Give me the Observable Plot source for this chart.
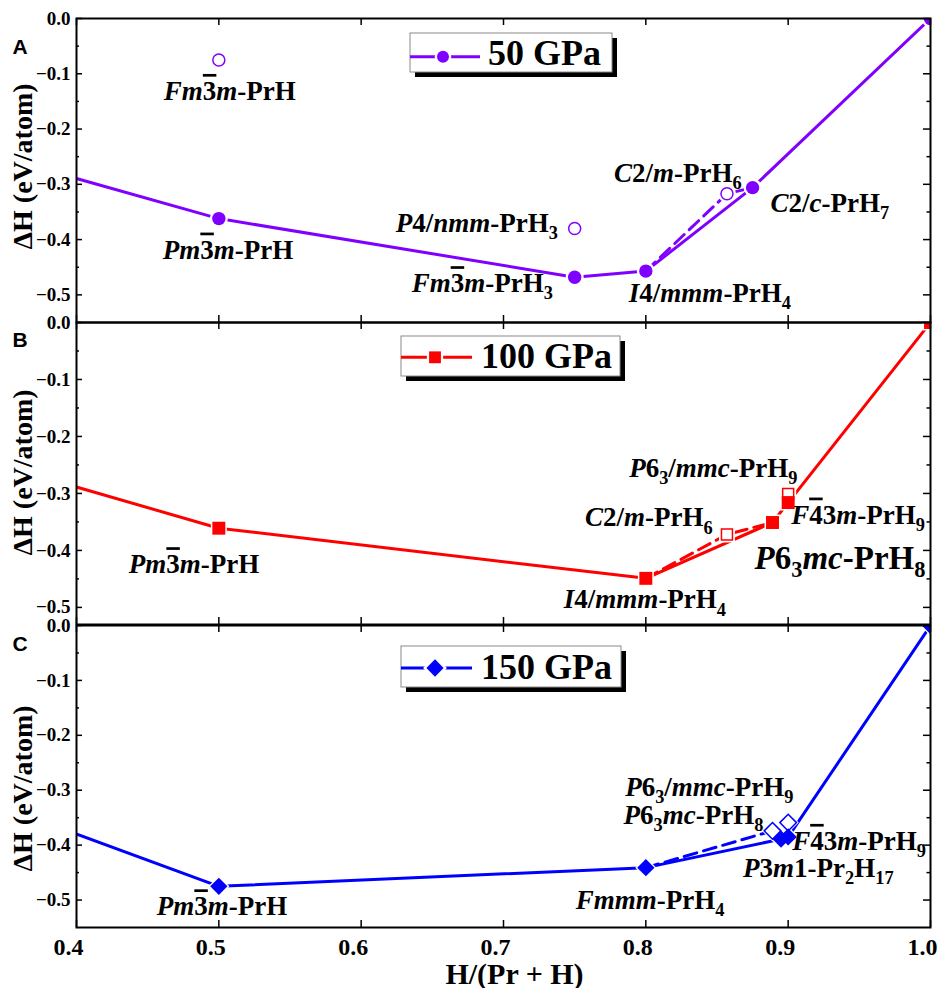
<!DOCTYPE html>
<html><head><meta charset="utf-8">
<script src="https://cdn.jsdelivr.net/npm/d3@7"></script>
<script src="https://cdn.jsdelivr.net/npm/@observablehq/plot@0.6"></script>
<style>
html,body{margin:0;padding:0;background:#fff;}
#root{position:relative;width:939px;height:988px;overflow:hidden;background:#fff;}
</style></head>
<body><div id="root"></div>
<script>
// ---------- data ----------
const xTicks = [0.4, 0.5, 0.6, 0.7, 0.8, 0.9, 1.0];
const yTicks = [0, -0.1, -0.2, -0.3, -0.4, -0.5];
const yMinor = [-0.05, -0.15, -0.25, -0.35, -0.45];

// Panel A : 50 GPa
const a_hullX = [0, 0.5, 0.75, 0.8, 0.875, 1.0];
const a_hullY = [0, -0.362, -0.468, -0.457, -0.306, 0];
const a_metaX = [0.5, 0.75, 0.857];
const a_metaY = [-0.075, -0.380, -0.317];
const a_dashX = [0.8, 0.857, 0.875];
const a_dashY = [-0.457, -0.317, -0.306];
const a_labelText = ["*Fm*~3*m*-PrH", "*Pm*~3*m*-PrH", "*P*4/*nmm*-PrH_3", "*Fm*~3*m*-PrH_3", "*I*4/*mmm*-PrH_4", "*C*2/*m*-PrH_6", "*C*2/*c*-PrH_7"];
const a_labelX = [0.5, 0.5, 0.75, 0.75, 0.8, 0.857, 0.875];
const a_labelY = [-0.075, -0.362, -0.380, -0.468, -0.457, -0.317, -0.306];

// Panel B : 100 GPa
const b_hullX = [0, 0.5, 0.8, 0.889, 0.9, 1.0];
const b_hullY = [0, -0.361, -0.449, -0.351, -0.316, 0];
const b_metaX = [0.857, 0.9];
const b_metaY = [-0.372, -0.301];
const b_dashX = [0.8, 0.857, 0.889];
const b_dashY = [-0.449, -0.372, -0.351];
const b_labelText = ["*Pm*~3*m*-PrH", "*I*4/*mmm*-PrH_4", "*C*2/*m*-PrH_6", "*P*6_3/*mmc*-PrH_9", "*F*~43*m*-PrH_9", "*P*6_3*mc*-PrH_8"];
const b_labelX = [0.5, 0.8, 0.857, 0.9, 0.9, 0.889];
const b_labelY = [-0.361, -0.449, -0.372, -0.301, -0.316, -0.351];

// Panel C : 150 GPa
const c_hullX = [0, 0.5, 0.8, 0.895, 0.9, 1.0];
const c_hullY = [0, -0.475, -0.441, -0.389, -0.385, 0];
const c_metaX = [0.889, 0.9];
const c_metaY = [-0.374, -0.359];
const c_dashX = [0.8, 0.889];
const c_dashY = [-0.441, -0.374];
const c_labelText = ["*Pm*~3*m*-PrH", "*Fmmm*-PrH_4", "*P*6_3/*mmc*-PrH_9", "*P*6_3*mc*-PrH_8", "*F*~43*m*-PrH_9", "*P*3*m*1-Pr_2H_17"];
const c_labelX = [0.5, 0.8, 0.9, 0.889, 0.9, 0.895];
const c_labelY = [-0.475, -0.441, -0.359, -0.374, -0.385, -0.389];

// ---------- layout (pixel offsets of labels from their points) ----------
const a_labelOff = [[-55,40],[-56,40],[-179,3],[-163,15],[-17,31],[-113,-12],[18,24]];
const a_labelSize = [27,27,27,27,27,27,27];
const b_labelOff = [[-90,45],[-82,30],[-142,-8],[-159,-17],[3,21],[-18,46]];
const b_labelSize = [27,27,27,27,27,33];
const c_labelOff = [[-62,29],[-70,41],[-163,-27],[-149,-7],[4,13],[-38,38]];
const c_labelSize = [27,27,27,27,27,27];

const W = 939, ML = 76, MR = 9;
const serif = "Liberation Serif, Times New Roman, serif";
const fmtY = d => d === 0 ? "0.0" : "\u2212" + Math.abs(d).toFixed(1);
const root = document.getElementById("root");

function parseMarkup(m) {
  const segs = []; let italic = false, buf = "", i = 0;
  const flush = () => { if (buf) { segs.push({t: buf, italic}); buf = ""; } };
  while (i < m.length) {
    const c = m[i];
    if (c === "*") { flush(); italic = !italic; i++; }
    else if (c === "_") { flush(); i++; let s = ""; while (i < m.length && /\d/.test(m[i])) s += m[i++]; segs.push({t: s, sub: true}); }
    else if (c === "~") { flush(); segs.push({t: m[i+1], over: true}); i += 2; }
    else { buf += c; i++; }
  }
  flush(); return segs;
}
function richify(svg) {
  const ns = "http://www.w3.org/2000/svg";
  svg.querySelectorAll("text").forEach(el => {
    const m = el.textContent;
    if (!m.includes("*")) return;
    const g = el.closest("[font-size]");
    const fs = g ? parseFloat(g.getAttribute("font-size")) : 27;
    el.textContent = "";
    let shift = 0;
    for (const s of parseMarkup(m)) {
      const t = document.createElementNS(ns, "tspan");
      const want = s.sub ? fs * 0.27 : 0;
      if (want - shift !== 0) t.setAttribute("dy", want - shift);
      shift = want;
      if (s.sub) t.setAttribute("font-size", fs * 0.68);
      if (s.italic) t.setAttribute("font-style", "italic");
      if (s.over) t.setAttribute("style", "text-decoration: overline");
      t.textContent = s.t;
      el.appendChild(t);
    }
  });
}

function makePanel(p) {
  const PH = p.height - p.mt - p.mb, PW = W - ML - MR;
  const pts = (xs, ys) => xs.map((x, i) => ({x, y: ys[i]}));
  const hull = pts(p.hullX, p.hullY), meta = pts(p.metaX, p.metaY), dash = pts(p.dashX, p.dashY);
  const labels = p.labelText.map((t, i) => Plot.text([{x: p.labelX[i], y: p.labelY[i], t}], {
    x: "x", y: "y", text: "t", dx: p.labelOff[i][0], dy: p.labelOff[i][1],
    textAnchor: "start", lineAnchor: "bottom", fontSize: p.labelSize[i],
    fontWeight: "bold", fontFamily: serif, fill: "black"
  }));
  const marks = [
    Plot.line(hull, {x: "x", y: "y", stroke: p.color, strokeWidth: 3, clip: true}),
    Plot.line(dash, {x: "x", y: "y", stroke: p.color, strokeWidth: 3, strokeDasharray: "13,7", clip: true}),
    Plot.dot(hull.concat(meta), {x: "x", y: "y", symbol: p.symbol, r: p.rHalo, fill: "white", clip: true}),
    Plot.dot(meta, {x: "x", y: "y", symbol: p.symbol, r: p.rOpen, fill: "white", stroke: p.color, strokeWidth: 1.5, clip: true}),
    Plot.dot(hull, {x: "x", y: "y", symbol: p.symbol, r: p.rFill, fill: p.color, clip: true}),
    Plot.tickY(yTicks, {y: d => d, insetRight: PW - 6, stroke: "black", strokeWidth: 1.5}),
    Plot.tickY(yMinor, {y: d => d, insetRight: PW - 3, stroke: "black", strokeWidth: 1.5}),
    Plot.tickY(yTicks, {y: d => d, insetLeft: PW - 7, stroke: "black", strokeWidth: 1.5}),
    Plot.tickY(yMinor, {y: d => d, insetLeft: PW - 3.5, stroke: "black", strokeWidth: 1.5}),
    Plot.tickX(xTicks, {x: d => d, insetBottom: PH - 7, stroke: "black", strokeWidth: 1.5}),
    Plot.tickX(xTicks, {x: d => d, insetTop: PH - 7, stroke: "black", strokeWidth: 1.5}),
    Plot.frame({stroke: "black", strokeWidth: 2}),
    Plot.text(yTicks, {y: d => d, frameAnchor: "left", dx: -6, text: fmtY, textAnchor: "end", lineAnchor: "middle", fontSize: 19, fontWeight: "bold", fontFamily: serif, fill: "black"}),
    Plot.text(["\u0394H (eV/atom)"], {frameAnchor: "left", dx: -53.5, dy: p.ylabDy, rotate: -90, fontSize: 28, fontWeight: "bold", fontFamily: serif, textAnchor: "middle", lineAnchor: "middle", fill: "black"}),
    Plot.text([p.letter], {frameAnchor: "top-left", dx: -64, dy: p.letterDy, textAnchor: "start", lineAnchor: "bottom", fontSize: 21, fontWeight: "bold", fontFamily: "Liberation Sans, Arial, sans-serif", fill: "black"}),
    ...labels
  ];
  if (p.xAxis) {
    marks.push(Plot.text(xTicks, {x: d => d, frameAnchor: "bottom", dx: -8, dy: 10, text: d => d.toFixed(1), textAnchor: "middle", lineAnchor: "top", fontSize: 24, fontWeight: "bold", fontFamily: serif, fill: "black"}));
    marks.push(Plot.text(["H/(Pr + H)"], {frameAnchor: "bottom", dx: 11, dy: 56, lineAnchor: "bottom", textAnchor: "middle", fontSize: 30, fontWeight: "bold", fontFamily: serif, fill: "black"}));
  }
  const svg = Plot.plot({
    width: W, height: p.height,
    marginLeft: ML, marginRight: MR, marginTop: p.mt, marginBottom: p.mb,
    x: {domain: [0.4, 1.0], axis: null},
    y: {domain: [p.yMin, 0], axis: null},
    style: {background: "transparent", overflow: "visible", fontFamily: serif, fontWeight: "bold", fontSize: "19px", color: "black"},
    marks
  });
  svg.style.position = "absolute";
  svg.style.left = "0px";
  svg.style.top = p.top + "px";
  richify(svg);
  root.appendChild(svg);
}

makePanel({hullX: a_hullX, hullY: a_hullY, metaX: a_metaX, metaY: a_metaY, dashX: a_dashX, dashY: a_dashY,
  labelText: a_labelText, labelX: a_labelX, labelY: a_labelY, labelOff: a_labelOff, labelSize: a_labelSize,
  color: "#8000ff", symbol: "circle", rFill: 6.7, rOpen: 6, rHalo: 9,
  yMin: -0.55, top: 0, height: 330, mt: 18, mb: 8, letter: "A", letterDy: 35, ylabDy: -4, xAxis: false});
makePanel({hullX: b_hullX, hullY: b_hullY, metaX: b_metaX, metaY: b_metaY, dashX: b_dashX, dashY: b_dashY,
  labelText: b_labelText, labelX: b_labelX, labelY: b_labelY, labelOff: b_labelOff, labelSize: b_labelSize,
  color: "#ff0000", symbol: "square", rFill: 7.3, rOpen: 6.2, rHalo: 9,
  yMin: -0.53, top: 312, height: 322, mt: 10, mb: 10, letter: "B", letterDy: 24, ylabDy: -1, xAxis: false});
makePanel({hullX: c_hullX, hullY: c_hullY, metaX: c_metaX, metaY: c_metaY, dashX: c_dashX, dashY: c_dashY,
  labelText: c_labelText, labelX: c_labelX, labelY: c_labelY, labelOff: c_labelOff, labelSize: c_labelSize,
  color: "#0000ff", symbol: "diamond2", rFill: 7.8, rOpen: 7.5, rHalo: 9.5,
  yMin: -0.55, top: 615, height: 373, mt: 10, mb: 61, letter: "C", letterDy: 25, ylabDy: 12, xAxis: true});

// ---------- legends (overlay) ----------
const legends = [
  {box: [410, 33, 202, 39], line: [410, 480], cy: 56.7, mx: 443, tx: 488, base: 65, color: "#8000ff", sym: d3.symbolCircle, size: Math.PI * 36, label: "50 GPa"},
  {box: [401, 336, 219, 40], line: [401, 472], cy: 357.3, mx: 435, tx: 481, base: 367.5, color: "#ff0000", sym: d3.symbolSquare, size: 140, label: "100 GPa"},
  {box: [401, 646, 220, 41], line: [401, 472], cy: 668, mx: 435, tx: 481, base: 679, color: "#0000ff", sym: d3.symbolDiamond2, size: 190, label: "150 GPa"}
];
const ov = d3.select(root).append("svg").attr("width", W).attr("height", 988)
  .style("position", "absolute").style("left", "0px").style("top", "0px");
for (const L of legends) {
  const [x, y, w, h] = L.box;
  ov.append("rect").attr("x", x + 5).attr("y", y + 5).attr("width", w).attr("height", h).attr("fill", "black");
  ov.append("rect").attr("x", x).attr("y", y).attr("width", w).attr("height", h).attr("fill", "white").attr("stroke", "#8a8a8a").attr("stroke-width", 1);
  ov.append("line").attr("x1", L.line[0]).attr("x2", L.line[1]).attr("y1", L.cy).attr("y2", L.cy).attr("stroke", L.color).attr("stroke-width", 3);
  ov.append("path").attr("d", d3.symbol(L.sym, L.size * 1.9)()).attr("transform", `translate(${L.mx},${L.cy})`).attr("fill", "white");
  ov.append("path").attr("d", d3.symbol(L.sym, L.size)()).attr("transform", `translate(${L.mx},${L.cy})`).attr("fill", L.color);
  ov.append("text").attr("x", L.tx).attr("y", L.base).attr("font-family", serif).attr("font-weight", "bold").attr("font-size", 36).attr("fill", "black").text(L.label);
}
</script>
</body></html>
